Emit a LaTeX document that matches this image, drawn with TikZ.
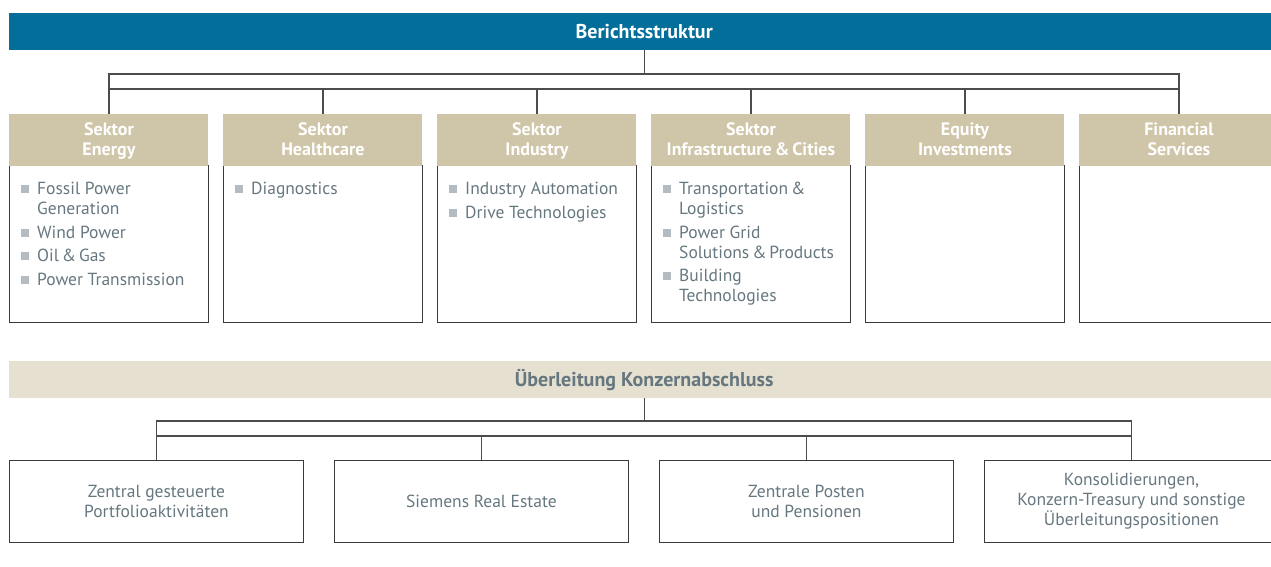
\documentclass[tikz,border=0pt]{standalone}
\usepackage{fontspec}
\setmainfont{PT Sans}
\usetikzlibrary{positioning}
\definecolor{siblue}{HTML}{046E9B}
\definecolor{sitan}{HTML}{CFC5A8}
\definecolor{sibeige}{HTML}{E5E0D0}
\definecolor{sigray}{HTML}{66777F}
\definecolor{sibullet}{HTML}{B5BCC1}
\definecolor{siline}{HTML}{3A3A3A}
\newcommand{\bul}{\textcolor{sibullet}{\raisebox{1.5pt}{\rule{8pt}{8pt}}}\hspace{8pt}}
\newcommand{\ind}{\hspace*{16pt}}
\newcommand{\hd}[2]{\rule{0pt}{17pt}#1\\#2\strut}

\begin{document}
\begin{tikzpicture}[x=1pt,y=-1pt]
	\tikzstyle{banner} = [minimum height=37pt, minimum width=1270pt, inner sep=0pt, anchor=north west, font=\bfseries\fontsize{20}{22}\selectfont];
	\tikzstyle{head} = [fill=sitan, text=white, minimum width=199pt, minimum height=52pt, inner sep=0pt, align=center, font=\bfseries\fontsize{18}{20}\selectfont];
	\tikzstyle{body} = [draw=siline, line width=0.9pt, minimum width=199pt, minimum height=157pt, inner sep=0pt, anchor=north west];
	\tikzstyle{items} = [text=sigray, align=left, inner sep=0pt, anchor=north west, font=\fontsize{17.5}{20}\selectfont];
	\tikzstyle{part} = [draw=siline, line width=0.9pt, minimum width=294pt, minimum height=82pt, inner sep=0pt, anchor=north west, text=sigray, align=center, font=\fontsize{17.5}{20}\selectfont];
	\tikzstyle{conn} = [draw=black!70, line width=1.1pt];
	\path[use as bounding box, clip] (0,0) rectangle (1271,566);
	
	% Berichtsstruktur
	\node[banner, fill=siblue, text=white] (top) at (9,13) {Berichtsstruktur};
	
	\node[body] (bE) at (9,165) {};
	\node[body] (bH) at (223,165) {};
	\node[body] (bI) at (437,165) {};
	\node[body] (bC) at (651,165) {};
	\node[body] (bQ) at (865,165) {};
	\node[body] (bF) at (1079,165) {};
	
	\node[head, above=-1pt of bE] (hE) {\hd{Sektor}{Energy}};
	\node[head, above=-1pt of bH] (hH) {\hd{Sektor}{Healthcare}};
	\node[head, above=-1pt of bI] (hI) {\hd{Sektor}{Industry}};
	\node[head, above=-1pt of bC] (hC) {\hd{Sektor}{Infrastructure\,\&\,Cities}};
	\node[head, above=-1pt of bQ] (hQ) {\hd{Equity}{Investments}};
	\node[head, above=-1pt of bF] (hF) {\hd{Financial}{Services}};
	
	\node[items] (iE) at (21,182) {\bul Fossil Power\\ \ind Generation\\[3.5pt] \bul Wind Power\\[3.5pt] \bul Oil\,\&\,Gas\\[3.5pt] \bul Power Transmission};
	\node[items] (iH) at (235,182) {\bul Diagnostics};
	\node[items] (iI) at (449,182) {\bul Industry Automation\\[3.5pt] \bul Drive Technologies};
	\node[items] (iC) at (663,182) {\bul Transportation\,\&\\ \ind Logistics\\[3.5pt] \bul Power Grid\\ \ind Solutions\,\&\,Products\\[3.5pt] \bul Building\\ \ind Technologies};
	
	\coordinate (ftop) at (0,74);
	\coordinate (fbot) at (0,89);
	\draw[conn] (top.south) -- (top.south |- ftop);
	\draw[conn] (hE.north |- ftop) rectangle (hF.north |- fbot);
	\draw[conn] (hE.north |- fbot) -- (hE.north);
	\draw[conn] (hH.north |- fbot) -- (hH.north);
	\draw[conn] (hI.north |- fbot) -- (hI.north);
	\draw[conn] (hC.north |- fbot) -- (hC.north);
	\draw[conn] (hQ.north |- fbot) -- (hQ.north);
	\draw[conn] (hF.north |- fbot) -- (hF.north);
	
	% Ueberleitung
	\node[banner, fill=sibeige, text=sigray] (recon) at (9,361) {Überleitung Konzernabschluss};
	
	\node[part] (pZ) at (9,460) {Zentral gesteuerte\\Portfolioaktivitäten};
	\node[part] (pS) at (334,460) {Siemens Real Estate};
	\node[part] (pP) at (659,460) {Zentrale Posten\\und Pensionen};
	\node[part] (pK) at (984,460) {Konsolidierungen,\\Konzern-Treasury und sonstige\\Überleitungspositionen};
	
	\coordinate (gtop) at (0,421);
	\coordinate (gbot) at (0,436);
	\draw[conn] (recon.south) -- (recon.south |- gtop);
	\draw[conn] (pZ.north |- gtop) rectangle (pK.north |- gbot);
	\draw[conn] (pZ.north |- gbot) -- (pZ.north);
	\draw[conn] (pS.north |- gbot) -- (pS.north);
	\draw[conn] (pP.north |- gbot) -- (pP.north);
	\draw[conn] (pK.north |- gbot) -- (pK.north);
\end{tikzpicture}
\end{document}
